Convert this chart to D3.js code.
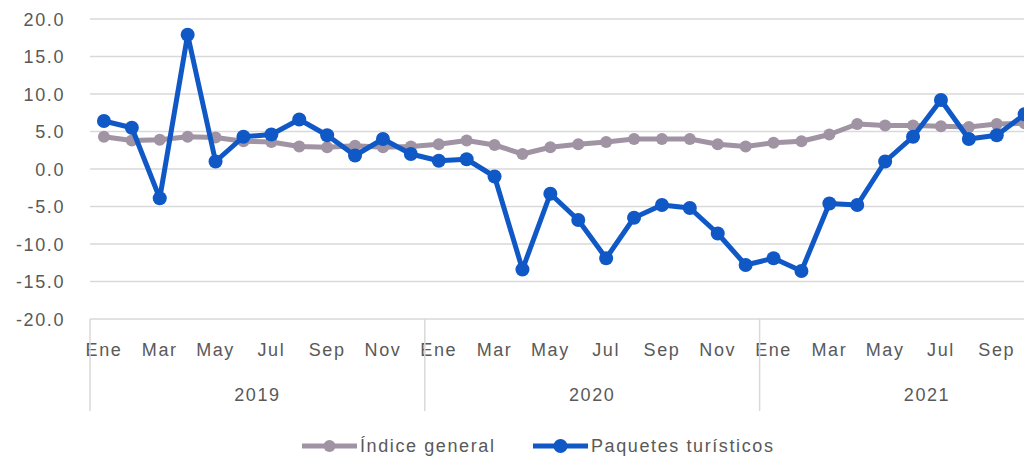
<!DOCTYPE html>
<html>
    <head>
        <meta charset="utf-8">
        <title>Índice general y Paquetes turísticos</title>
        <script src="https://d3js.org/d3.v7.min.js"></script>
        <style>
            body { margin: 0; background: #fff; }
            svg { display: block; font-family: "Liberation Sans", Arial, sans-serif; }
            svg text { letter-spacing: 1.6px; }
            .tick text { fill: #595959; }
        </style>
    </head>
    <body>
        <svg id="chart"></svg>
        <script>
            const years = [2019, 2020, 2021];
            const months = ["Ene", "Feb", "Mar", "Abr", "May", "Jun", "Jul", "Ago", "Sep", "Oct", "Nov", "Dic"];
            const yTicks = [-20, -15, -10, -5, 0, 5, 10, 15, 20];

            // variación % (ene 2019 - oct 2021)
            const indiceGeneral = [
                4.3, 3.8, 3.9, 4.3, 4.2, 3.7, 3.6, 3.0, 2.9, 3.1, 2.9, 3.0,
                3.3, 3.8, 3.2, 2.0, 2.9, 3.3, 3.6, 4.0, 4.0, 4.0, 3.3, 3.0,
                3.5, 3.7, 4.6, 6.0, 5.8, 5.8, 5.7, 5.6, 6.0, 6.1
            ];
            const paquetes = [
                6.4, 5.5, -3.9, 17.9, 1.0, 4.3, 4.6, 6.6, 4.5, 1.8, 4.0, 2.0,
                1.1, 1.3, -1.0, -13.4, -3.3, -6.8, -11.9, -6.5, -4.8, -5.2, -8.6, -12.8,
                -11.9, -13.6, -4.6, -4.8, 1.0, 4.3, 9.2, 4.0, 4.5, 7.3
            ];

            const width = 1024;
            const height = 456;
            const margin = { top: 19, left: 90, bottom: 137 };

            const svg = d3.select("#chart")
                .attr("width", width)
                .attr("height", height);

            const keys = years.flatMap(y => months.map(m => `${y}-${m}`));
            const dataKeys = keys.slice(0, paquetes.length);

            const x = d3.scaleBand()
                .domain(keys)
                .range([margin.left, margin.left + keys.length * 27.9]);

            const y = d3.scaleLinear()
                .domain([-20, 20])
                .range([height - margin.bottom, margin.top]);

            // gridlines
            svg.append("g")
                .selectAll("line")
                .data(yTicks)
                .join("line")
                .attr("x1", margin.left)
                .attr("x2", width)
                .attr("y1", d => y(d))
                .attr("y2", d => y(d))
                .attr("stroke", "#d9d9d9")
                .attr("stroke-width", 1.5);

            // y axis
            const yAxis = svg.append("g")
                .attr("transform", `translate(${margin.left - 22},0)`)
                .call(d3.axisLeft(y).tickValues(yTicks).tickSize(0).tickFormat(d => d.toFixed(1)));
            yAxis.select(".domain").remove();
            yAxis.selectAll("text").style("font-size", "18px").attr("dy", "0.35em");

            // month labels
            const xAxis = svg.append("g")
                .attr("transform", `translate(0,${y(-20)})`)
                .call(d3.axisBottom(x)
                    .tickValues(dataKeys.filter((k, i) => i % 2 === 0))
                    .tickSize(0)
                    .tickFormat(k => k.split("-")[1]));
            xAxis.select(".domain").remove();
            xAxis.selectAll("text").style("font-size", "18px").attr("y", 24);

            // year separators and labels
            const yearStart = yr => x(`${yr}-Ene`);
            const yearEnd = yr => x(`${yr}-Dic`) + x.bandwidth();

            svg.append("g")
                .selectAll("line")
                .data(years)
                .join("line")
                .attr("x1", d => yearStart(d))
                .attr("x2", d => yearStart(d))
                .attr("y1", y(-20))
                .attr("y2", y(-20) + 92)
                .attr("stroke", "#d9d9d9")
                .attr("stroke-width", 1.5);

            svg.append("g")
                .selectAll("text")
                .data(years)
                .join("text")
                .attr("x", d => (yearStart(d) + yearEnd(d)) / 2)
                .attr("y", y(-20) + 82)
                .attr("text-anchor", "middle")
                .attr("fill", "#595959")
                .style("font-size", "18px")
                .text(d => d);

            const series = [
                { name: "Índice general", values: indiceGeneral, color: "#a093a3", r: 6 },
                { name: "Paquetes turísticos", values: paquetes, color: "#0f58c6", r: 7 }
            ];

            const line = d3.line()
                .x((d, i) => x(keys[i]) + x.bandwidth() / 2)
                .y(d => y(d));

            series.forEach(s => {
                const g = svg.append("g");
                g.append("path")
                    .datum(s.values)
                    .attr("fill", "none")
                    .attr("stroke", s.color)
                    .attr("stroke-width", 5)
                    .attr("stroke-linejoin", "round")
                    .attr("d", line);
                g.selectAll("circle")
                    .data(s.values)
                    .join("circle")
                    .attr("cx", (d, i) => x(keys[i]) + x.bandwidth() / 2)
                    .attr("cy", d => y(d))
                    .attr("r", s.r)
                    .attr("fill", s.color);
            });

            // legend
            const legendX = [302, 533];
            const legend = svg.append("g")
                .selectAll("g")
                .data(series)
                .join("g")
                .attr("transform", (d, i) => `translate(${legendX[i]},${446})`);

            legend.append("line")
                .attr("x1", 0)
                .attr("x2", 55)
                .attr("stroke", d => d.color)
                .attr("stroke-width", 5);
            legend.append("circle")
                .attr("cx", 27.5)
                .attr("r", d => d.r)
                .attr("fill", d => d.color);
            legend.append("text")
                .attr("x", 58)
                .attr("dy", "0.35em")
                .attr("fill", "#595959")
                .style("font-size", "18px")
                .text(d => d.name);
        </script>
    </body>
</html>
